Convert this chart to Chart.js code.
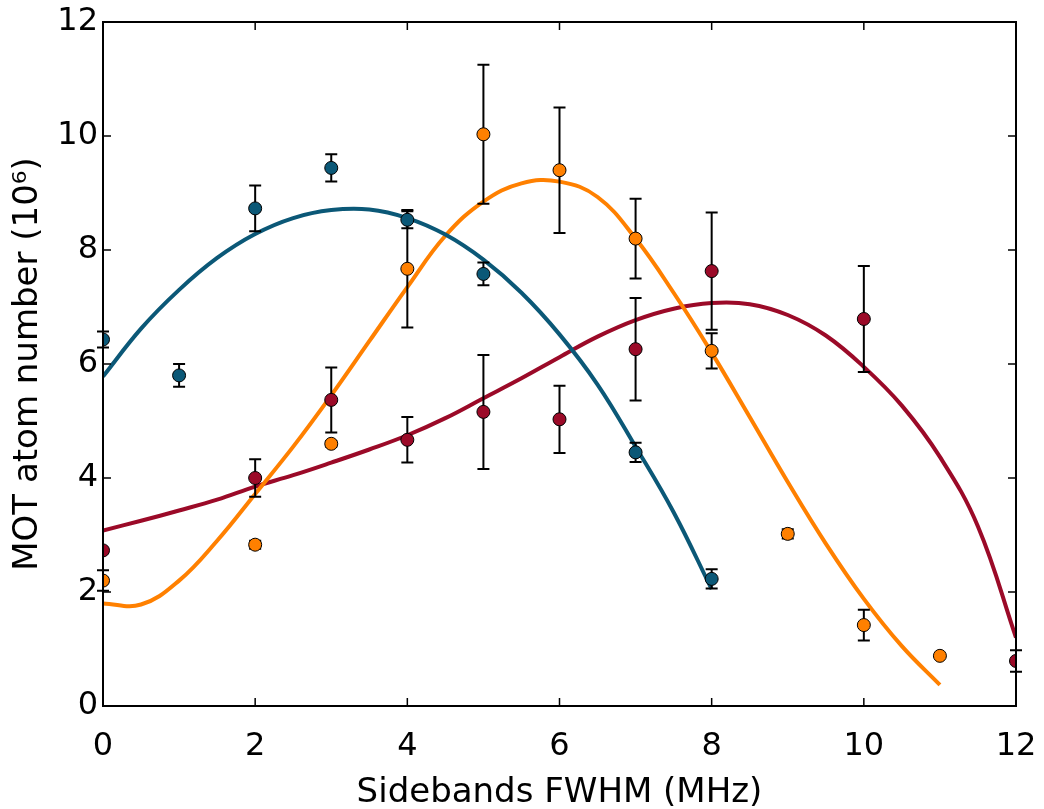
<!DOCTYPE html>
<html>
<head>
<meta charset="utf-8">
<script src="https://cdn.jsdelivr.net/npm/chart.js@4.4.0/dist/chart.umd.min.js"></script>
<style>
  html, body { margin: 0; padding: 0; background: #fff; overflow: hidden; }
  #wrap { width: 1044px; height: 809px; position: relative; }
  canvas { display: block; }
</style>
</head>
<body>
<div id="wrap"><canvas id="c"></canvas></div>
<script>
// measured points (x in MHz, y in 10^6 atoms, err = half height of error bar)
var blueX = [0, 1, 2, 3, 4, 5, 7, 8];
var blueY = [6.43, 5.80, 8.73, 9.44, 8.53, 7.58, 4.45, 2.23];
var blueErr = [0.14, 0.20, 0.40, 0.24, 0.15, 0.20, 0.17, 0.17];

var orangeX = [0, 2, 3, 4, 5, 6, 7, 8, 9, 10, 11];
var orangeY = [2.20, 2.83, 4.60, 7.67, 10.03, 9.40, 8.20, 6.23, 3.02, 1.42, 0.88];
var orangeErr = [0.18, 0.07, 0.05, 1.03, 1.22, 1.10, 0.70, 0.31, 0.08, 0.27, 0];

var redX = [0, 2, 3, 4, 5, 6, 7, 8, 10, 12];
var redY = [2.73, 4.00, 5.37, 4.67, 5.16, 5.03, 6.26, 7.63, 6.79, 0.79];
var redErr = [0, 0.33, 0.57, 0.40, 1.00, 0.59, 0.90, 1.03, 0.93, 0.19];

// fitted curves, every 0.5 MHz
var fitX = [0, 0.5, 1, 1.5, 2, 2.5, 3, 3.5, 4, 4.5, 5, 5.5, 6, 6.5, 7, 7.5, 8, 8.5, 9, 9.5, 10, 10.5, 11, 11.5, 12];
var blueFit = [5.78, 6.62, 7.30, 7.86, 8.28, 8.56, 8.70, 8.71, 8.56, 8.27, 7.83, 7.25, 6.52, 5.64, 4.55, 3.40, 2.05];
var orangeFit = [1.80, 1.78, 2.20, 2.90, 3.72, 4.55, 5.45, 6.40, 7.35, 8.25, 8.85, 9.17, 9.20, 8.93, 8.20, 7.25, 6.20, 5.07, 3.93, 2.85, 1.88, 1.05, 0.37];
var redFit = [3.08, 3.25, 3.43, 3.62, 3.85, 4.05, 4.27, 4.50, 4.75, 5.05, 5.40, 5.75, 6.12, 6.48, 6.77, 6.97, 7.07, 7.05, 6.86, 6.50, 5.95, 5.27, 4.37, 3.15, 1.20];

var xTicks = [0, 2, 4, 6, 8, 10, 12];
var yTicks = [0, 2, 4, 6, 8, 10, 12];

var BLUE = '#0b5877', ORANGE = '#ff8000', RED = '#9b0a28';

function pts(xs, ys) {
  return ys.map(function (y, i) { return { x: xs[i], y: y }; });
}

function fitSet(ys, color) {
  return {
    type: 'line', data: pts(fitX, ys), borderColor: color, borderWidth: 4,
    pointRadius: 0, fill: false, tension: 0.4, order: 2
  };
}

function dotSet(xs, ys, errs, color) {
  return {
    type: 'scatter', data: pts(xs, ys), errs: errs, backgroundColor: color,
    borderColor: '#000', borderWidth: 1, pointRadius: 6.5, order: 1
  };
}

// error bars under the markers
var errorBars = {
  id: 'errorBars',
  beforeDraw: function (chart) { chart._errDone = false; },
  beforeDatasetDraw: function (chart, args) {
    if (chart._errDone || args.meta.type !== 'scatter') return;
    chart._errDone = true;
    var ctx = chart.ctx, sx = chart.scales.x, sy = chart.scales.y;
    ctx.save();
    ctx.strokeStyle = '#000';
    ctx.lineWidth = 2;
    chart.data.datasets.forEach(function (ds) {
      if (!ds.errs) return;
      ds.data.forEach(function (p, i) {
        var e = ds.errs[i];
        if (!e) return;
        var px = sx.getPixelForValue(p.x);
        var top = sy.getPixelForValue(p.y + e), bot = sy.getPixelForValue(p.y - e);
        ctx.beginPath();
        ctx.moveTo(px, top); ctx.lineTo(px, bot);
        ctx.moveTo(px - 6, top); ctx.lineTo(px + 6, top);
        ctx.moveTo(px - 6, bot); ctx.lineTo(px + 6, bot);
        ctx.stroke();
      });
    });
    ctx.restore();
  }
};

// box round the plot with inward ticks on all four sides
var frame = {
  id: 'frame',
  afterDraw: function (chart) {
    var ctx = chart.ctx, a = chart.chartArea, sx = chart.scales.x, sy = chart.scales.y;
    ctx.save();
    ctx.strokeStyle = '#000';
    ctx.lineWidth = 1.5;
    xTicks.forEach(function (v) {
      var px = sx.getPixelForValue(v);
      ctx.beginPath();
      ctx.moveTo(px, a.bottom); ctx.lineTo(px, a.bottom - 8);
      ctx.moveTo(px, a.top); ctx.lineTo(px, a.top + 8);
      ctx.stroke();
    });
    yTicks.forEach(function (v) {
      var py = sy.getPixelForValue(v);
      ctx.beginPath();
      ctx.moveTo(a.left, py); ctx.lineTo(a.left + 8, py);
      ctx.moveTo(a.right, py); ctx.lineTo(a.right - 8, py);
      ctx.stroke();
    });
    ctx.lineWidth = 2;
    ctx.strokeRect(a.left, a.top, a.right - a.left, a.bottom - a.top);
    ctx.restore();
  }
};

var tickFont = { family: 'DejaVu Sans', size: 32 };
var titleFont = { family: 'DejaVu Sans', size: 34 };

new Chart(document.getElementById('c'), {
  data: {
    datasets: [
      fitSet(blueFit, BLUE),
      fitSet(orangeFit, ORANGE),
      fitSet(redFit, RED),
      dotSet(blueX, blueY, blueErr, BLUE),
      dotSet(orangeX, orangeY, orangeErr, ORANGE),
      dotSet(redX, redY, redErr, RED)
    ]
  },
  options: {
    responsive: true,
    maintainAspectRatio: false,
    animation: false,
    layout: { padding: { top: 22, right: 28, left: 0, bottom: 0 } },
    plugins: { legend: { display: false }, tooltip: { enabled: false } },
    scales: {
      x: {
        type: 'linear', min: 0, max: 12,
        afterFit: function (s) { s.height = 103; s.paddingLeft = 0; s.paddingRight = 0; },
        afterBuildTicks: function (s) { s.ticks = xTicks.map(function (v) { return { value: v }; }); },
        grid: { display: false, drawTicks: false },
        border: { display: false },
        ticks: { color: '#000', font: tickFont, padding: 21, maxRotation: 0 },
        title: { display: true, text: 'Sidebands FWHM (MHz)', color: '#000',
                 font: titleFont, padding: { top: 0, bottom: -5 } }
      },
      y: {
        type: 'linear', min: 0, max: 12,
        afterFit: function (s) { s.width = 103; s.paddingTop = 0; s.paddingBottom = 0; },
        afterBuildTicks: function (s) { s.ticks = yTicks.map(function (v) { return { value: v }; }); },
        grid: { display: false, drawTicks: false },
        border: { display: false },
        ticks: { color: '#000', font: tickFont, padding: 5 },
        title: { display: true, text: 'MOT atom number (10\u2076)', color: '#000',
                 font: titleFont, padding: { top: 8, bottom: 0 } }
      }
    }
  },
  plugins: [errorBars, frame]
});
</script>
</body>
</html>
